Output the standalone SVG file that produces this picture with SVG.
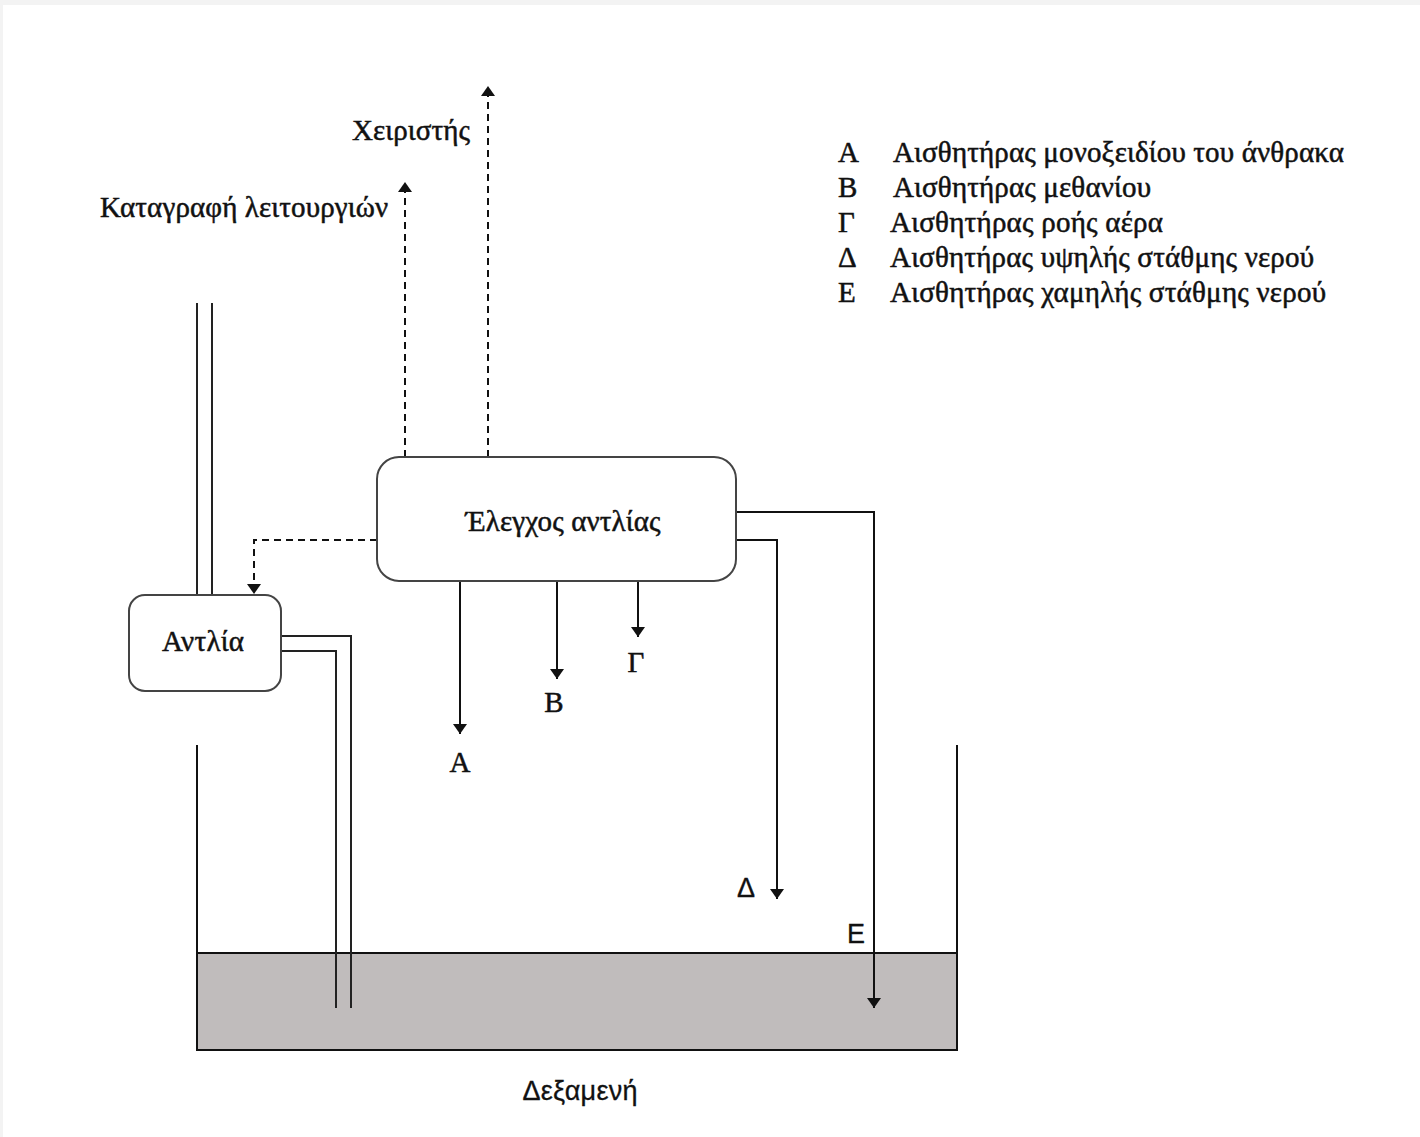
<svg xmlns="http://www.w3.org/2000/svg" width="1420" height="1137" viewBox="0 0 1420 1137">
<style>
.t{font-family:"Liberation Serif","Times New Roman",serif;font-size:29px;fill:#111;stroke:#111;stroke-width:0.5;}
.n{font-family:"Liberation Sans Narrow","Liberation Sans",Arial,sans-serif;font-size:27px;fill:#111;stroke:#111;stroke-width:0.3;}
.box{fill:#fff;stroke:#444;stroke-width:2;}
.ln{fill:none;stroke:#111;stroke-width:2;}
.dash{fill:none;stroke:#111;stroke-width:2;stroke-dasharray:7,5;}
.pipe{fill:none;stroke:#222;stroke-width:2;}
</style>
<defs>
<marker id="ah" viewBox="0 0 10 14" refX="10" refY="7" markerWidth="10" markerHeight="14" markerUnits="userSpaceOnUse" orient="auto">
<path d="M0,0 L10,7 L0,14 z" fill="#111"/>
</marker>
</defs>
<rect x="0" y="0" width="1420" height="1137" fill="#f3f3f3"/>
<rect x="3" y="5" width="1417" height="1132" fill="#fff"/>

<g id="tank">
<rect x="197" y="953" width="760" height="97" fill="#c0bcbc"/>
<path class="ln" d="M197,745 V1050 H957 V745"/>
<line class="ln" x1="197" y1="953" x2="957" y2="953"/>
<text class="n" x="580" y="1100" text-anchor="middle" textLength="115">Δεξαμενή</text>
</g>

<g id="pipes">
<path class="pipe" d="M197,303 V596"/>
<path class="pipe" d="M212,303 V596"/>
<path class="pipe" d="M281,636 H351 V1008"/>
<path class="pipe" d="M281,651 H336 V1008"/>
</g>

<g id="connectors">
<path class="dash" d="M405,457 V182" marker-end="url(#ah)"/>
<path class="dash" d="M488,457 V86" marker-end="url(#ah)"/>
<path class="dash" d="M377,540 H254 V594" marker-end="url(#ah)"/>
<path class="ln" d="M460,581 V734" marker-end="url(#ah)"/>
<path class="ln" d="M557,581 V679" marker-end="url(#ah)"/>
<path class="ln" d="M638,581 V637" marker-end="url(#ah)"/>
<path class="ln" d="M736,540 H777 V899" marker-end="url(#ah)"/>
<path class="ln" d="M736,512 H874 V1008" marker-end="url(#ah)"/>
</g>

<g id="control">
<rect class="box" x="377" y="457" width="359" height="124" rx="22"/>
<text class="t" x="563" y="531" text-anchor="middle" textLength="195">Έλεγχος αντλίας</text>
</g>

<g id="pump">
<rect class="box" x="129" y="595" width="152" height="96" rx="16"/>
<text class="t" x="203" y="651" text-anchor="middle" textLength="82">Αντλία</text>
</g>

<g id="labels">
<text class="t" x="411" y="140" text-anchor="middle" textLength="118">Χειριστής</text>
<text class="t" x="244" y="217" text-anchor="middle" textLength="288">Καταγραφή λειτουργιών</text>
<text class="t" x="460" y="772" text-anchor="middle">Α</text>
<text class="t" x="554" y="712" text-anchor="middle">Β</text>
<text class="t" x="636" y="672" text-anchor="middle">Γ</text>
<text class="n" x="746" y="897" text-anchor="middle">Δ</text>
<text class="n" x="856" y="943" text-anchor="middle">Ε</text>
</g>

<g id="legend">
<text class="t" x="838" y="162">Α</text><text class="t" x="893" y="162" textLength="451">Αισθητήρας μονοξειδίου του άνθρακα</text>
<text class="t" x="838" y="197">Β</text><text class="t" x="893" y="197" textLength="258">Αισθητήρας μεθανίου</text>
<text class="t" x="838" y="232">Γ</text><text class="t" x="890" y="232" textLength="273">Αισθητήρας ροής αέρα</text>
<text class="t" x="838" y="267">Δ</text><text class="t" x="890" y="267" textLength="424">Αισθητήρας υψηλής στάθμης νερού</text>
<text class="t" x="838" y="302">Ε</text><text class="t" x="890" y="302" textLength="436">Αισθητήρας χαμηλής στάθμης νερού</text>
</g>
</svg>
